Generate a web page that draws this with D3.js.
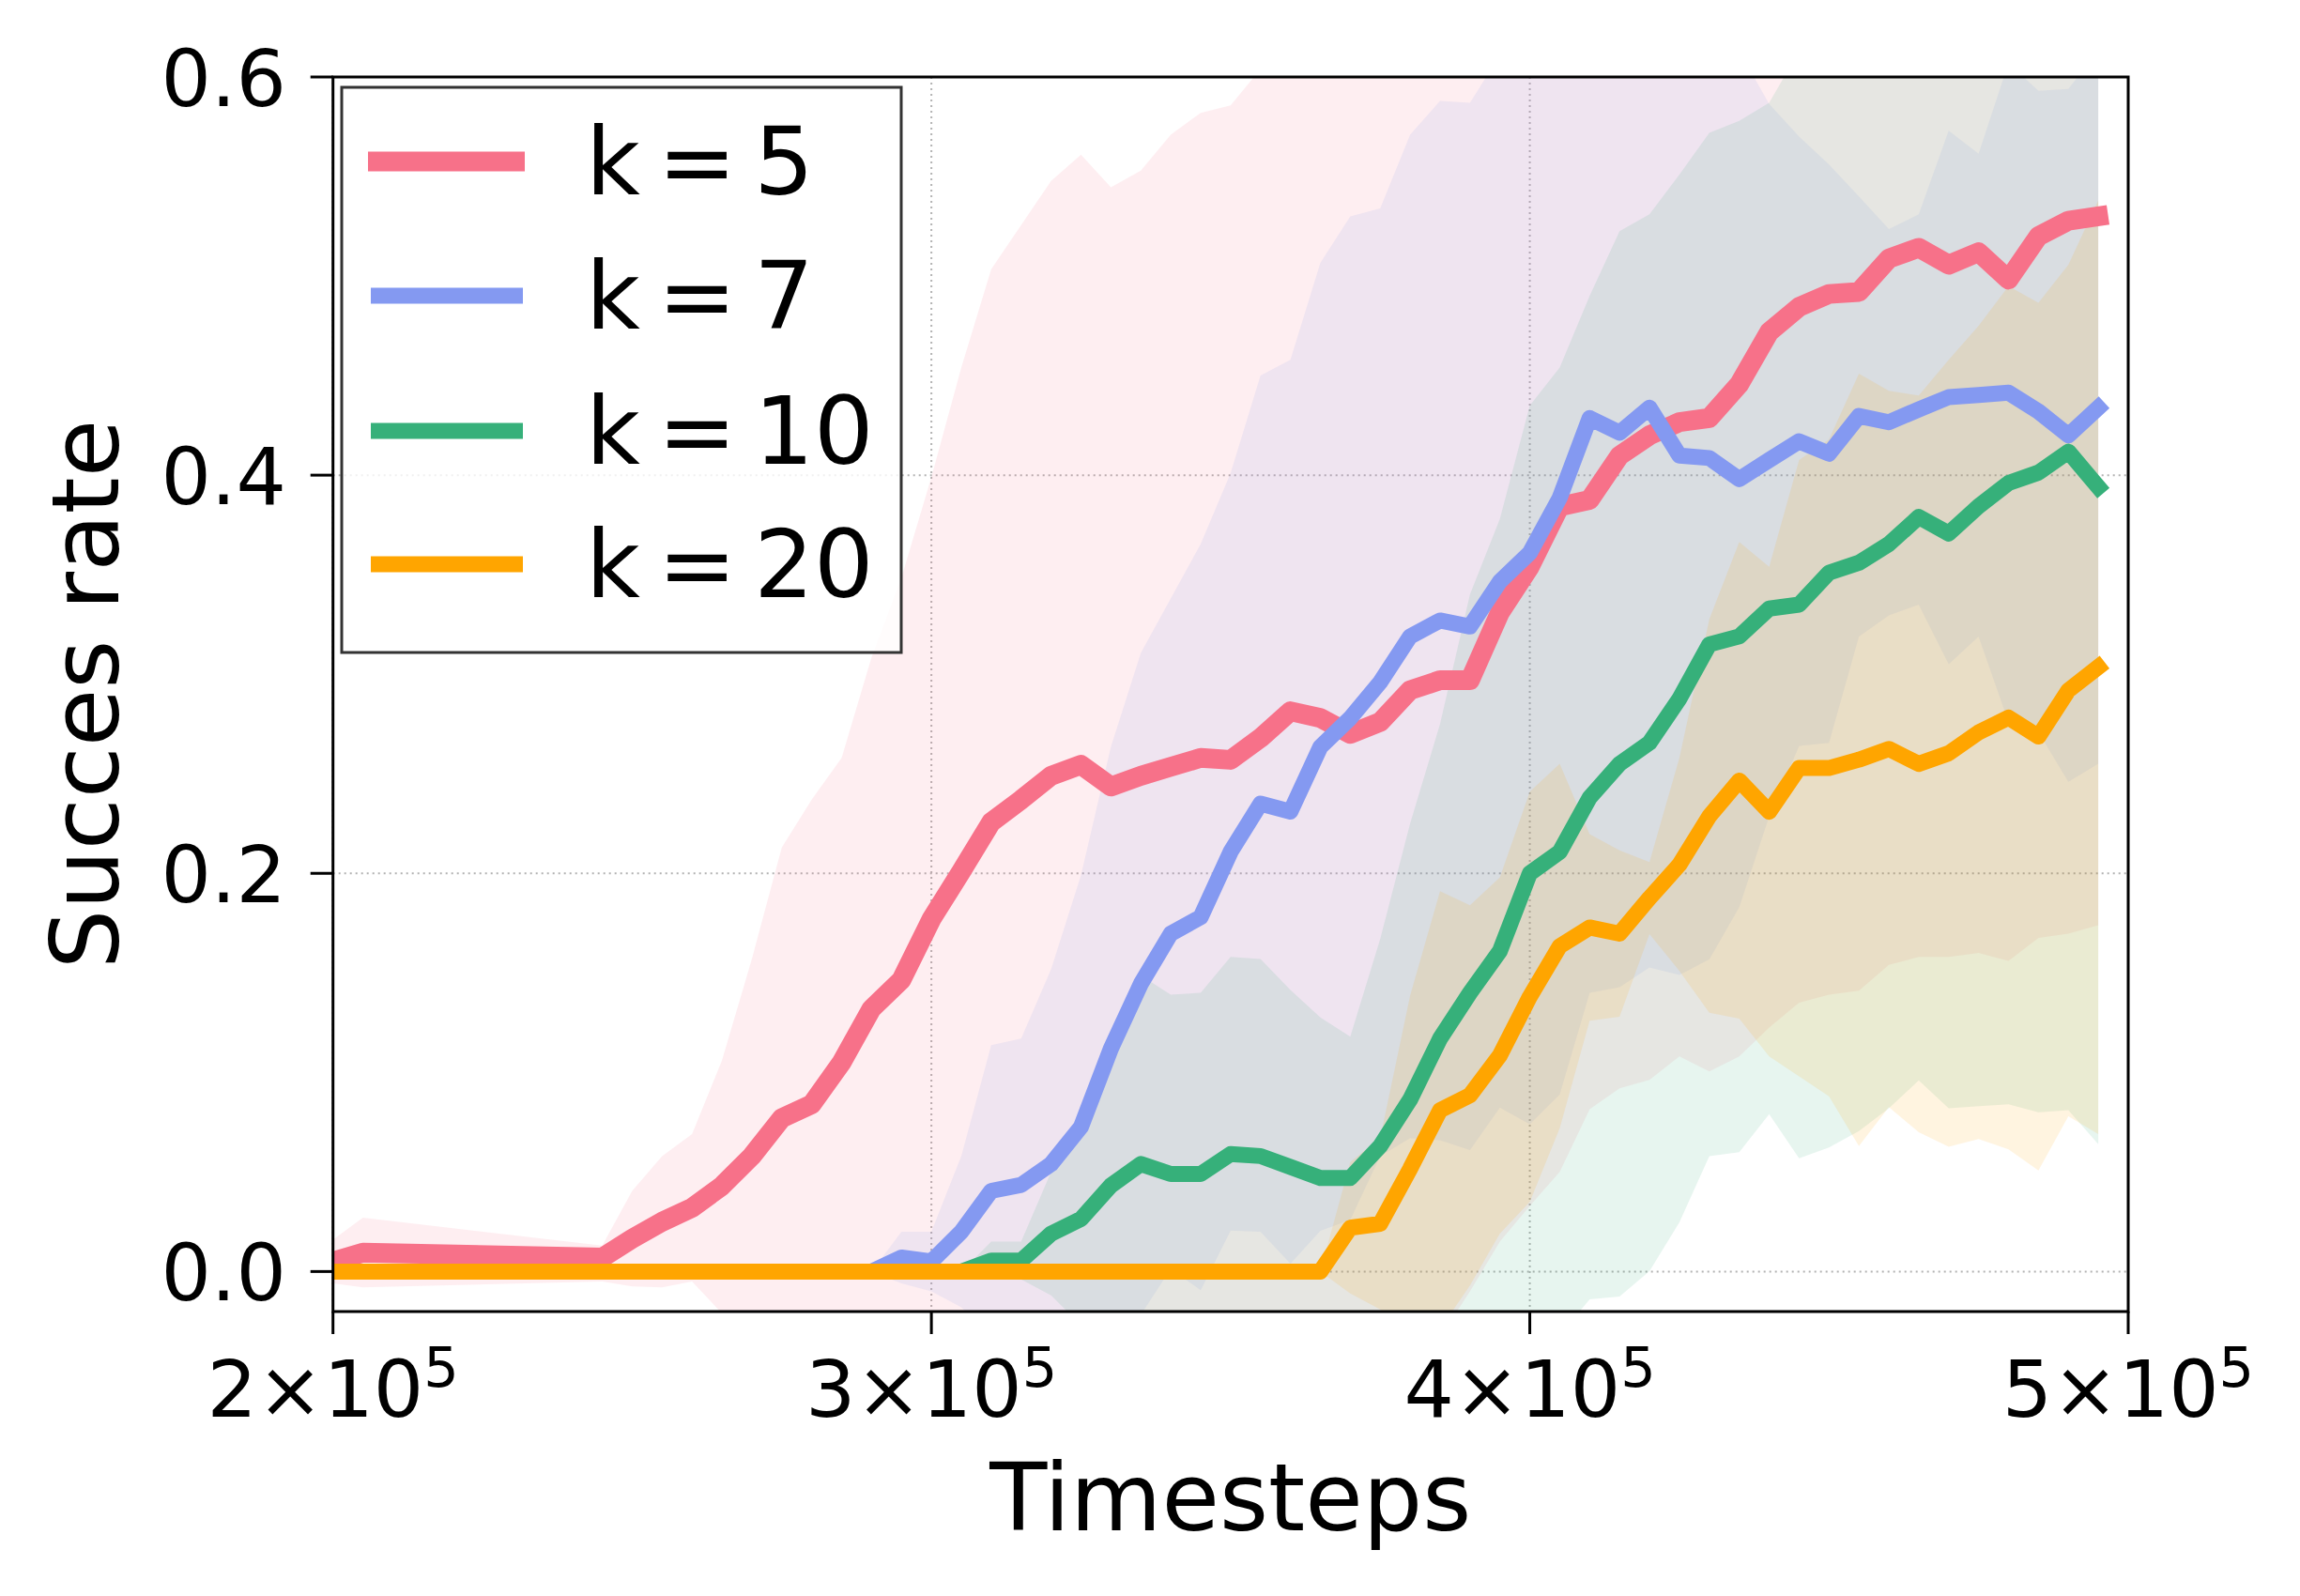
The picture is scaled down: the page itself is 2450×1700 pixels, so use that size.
<!DOCTYPE html>
<html>
<head>
<meta charset="utf-8">
<script src="https://cdn.jsdelivr.net/npm/d3@7"></script>
<style>
  html, body { margin: 0; padding: 0; background: #ffffff; }
  svg { display: block; }
  text { font-family: "DejaVu Sans", sans-serif; fill: #000; }
</style>
</head>
<body>
<svg id="chart" width="2450" height="1700"></svg>
<script>
// ---------------- data ----------------
const steps = [200000, 205000, 245000, 250000, 255000, 260000, 265000, 270000, 275000, 280000,
  285000, 290000, 295000, 300000, 305000, 310000, 315000, 320000, 325000, 330000,
  335000, 340000, 345000, 350000, 355000, 360000, 365000, 370000, 375000, 380000,
  385000, 390000, 395000, 400000, 405000, 410000, 415000, 420000, 425000, 430000,
  435000, 440000, 445000, 450000, 455000, 460000, 465000, 470000, 475000, 480000,
  485000, 490000, 495000];

const seriesLabels = ["k = 5", "k = 7", "k = 10", "k = 20"];

// k = 5
const meanK5 = [0.005, 0.0095, 0.007, 0.0165, 0.025, 0.032, 0.043, 0.058, 0.077, 0.084,
  0.105, 0.132, 0.1465, 0.177, 0.201, 0.2257, 0.237, 0.249, 0.2545, 0.2436,
  0.249, 0.2535, 0.258, 0.257, 0.268, 0.2814, 0.278, 0.270, 0.276, 0.292,
  0.297, 0.297, 0.331, 0.354, 0.3843, 0.3876, 0.4098, 0.420, 0.4266, 0.4287,
  0.4457, 0.4719, 0.4845, 0.491, 0.492, 0.5088, 0.5142, 0.5057, 0.512, 0.4982,
  0.520, 0.5278, 0.530];
const upperK5 = [0.016, 0.027, 0.013, 0.0405, 0.058, 0.069, 0.106, 0.157, 0.213, 0.237,
  0.258, 0.3085, 0.3486, 0.399, 0.454, 0.5035, 0.5256, 0.5478, 0.561, 0.5446,
  0.553, 0.571, 0.582, 0.5857, 0.604, 0.621, 0.618, 0.61, 0.616, 0.622,
  0.627, 0.604, 0.647, 0.675, 0.719, 0.6937, 0.7276, 0.7437, 0.7452, 0.7569,
  0.7834, 0.8213, 0.834, 0.843, 0.843, 0.8636, 0.8704, 0.8534, 0.864, 0.8404,
  0.8724, 0.8859, 0.886];
const lowerK5 = [-0.006, -0.008, -0.005, -0.0075, -0.008, -0.005, -0.021, -0.041, -0.059, -0.069,
  -0.048, -0.045, -0.055, -0.045, -0.052, -0.052, -0.052, -0.05, -0.052, -0.057,
  -0.055, -0.064, -0.066, -0.072, -0.068, -0.059, -0.062, -0.07, -0.064, -0.038,
  -0.033, -0.01, 0.015, 0.033, 0.05, 0.0815, 0.092, 0.0963, 0.108, 0.1005,
  0.108, 0.1225, 0.135, 0.139, 0.141, 0.154, 0.158, 0.158, 0.160, 0.156,
  0.1676, 0.1697, 0.174];

// k = 7
const meanK7 = [0, 0, 0, 0, 0, 0, 0, 0, 0, 0,
  0, 0, 0.007, 0.005, 0.020, 0.0405, 0.0435, 0.054, 0.0727, 0.112,
  0.1445, 0.1697, 0.178, 0.2108, 0.235, 0.231, 0.2635, 0.278, 0.296, 0.319,
  0.327, 0.324, 0.3466, 0.361, 0.3886, 0.4287, 0.4213, 0.4339, 0.4098, 0.4086,
  0.398, 0.4076, 0.417, 0.4108, 0.4297, 0.4266, 0.433, 0.4392, 0.4403, 0.4414,
  0.432, 0.420, 0.4339];
const upperK7 = [0, 0, 0, 0, 0, 0, 0, 0, 0, 0,
  0, 0, 0.02, 0.02, 0.058, 0.1137, 0.117, 0.1518, 0.199, 0.2635,
  0.3107, 0.338, 0.3654, 0.401, 0.45, 0.458, 0.5066, 0.530, 0.534, 0.571,
  0.588, 0.587, 0.611, 0.648, 0.688, 0.717, 0.70, 0.715, 0.671, 0.660,
  0.613, 0.5865, 0.570, 0.556, 0.540, 0.5236, 0.531, 0.573, 0.5615, 0.607,
  0.593, 0.594, 0.613];
const lowerK7 = [0, 0, 0, 0, 0, 0, 0, 0, 0, 0,
  0, 0, -0.006, -0.01, -0.018, -0.0327, -0.03, -0.0438, -0.0536, -0.0395,
  -0.0217, 0.0014, -0.0094, 0.0206, 0.02, 0.004, 0.0204, 0.026, 0.058, 0.067,
  0.066, 0.061, 0.0823, 0.074, 0.0889, 0.140, 0.1428, 0.1527, 0.149, 0.1568,
  0.183, 0.2287, 0.264, 0.2656, 0.319, 0.3296, 0.335, 0.305, 0.319, 0.276,
  0.271, 0.246, 0.255];

// k = 10
const meanK10 = [0, 0, 0, 0, 0, 0, 0, 0, 0, 0,
  0, 0, 0, 0, 0, 0.0055, 0.0055, 0.019, 0.0264, 0.0432,
  0.054, 0.049, 0.049, 0.059, 0.058, 0.0525, 0.047, 0.047, 0.063, 0.0864,
  0.117, 0.140, 0.161, 0.200, 0.2108, 0.238, 0.255, 0.2656, 0.2877, 0.315,
  0.319, 0.333, 0.335, 0.351, 0.356, 0.3654, 0.379, 0.3707, 0.3844, 0.396,
  0.4013, 0.4118, 0.394];
const upperK10 = [0, 0, 0, 0, 0, 0, 0, 0, 0, 0,
  0, 0, 0, 0, 0, 0.015, 0.015, 0.05, 0.08, 0.12,
  0.1487, 0.139, 0.140, 0.158, 0.157, 0.1414, 0.1276, 0.118, 0.167, 0.225,
  0.275, 0.34, 0.378, 0.435, 0.454, 0.490, 0.5225, 0.531, 0.551, 0.572,
  0.578, 0.587, 0.613, 0.64, 0.641, 0.648, 0.662, 0.6594, 0.6858, 0.708,
  0.7226, 0.7426, 0.724];
const lowerK10 = [0, 0, 0, 0, 0, 0, 0, 0, 0, 0,
  0, 0, 0, 0, 0, -0.004, -0.004, -0.012, -0.027, -0.034,
  -0.041, -0.041, -0.042, -0.04, -0.041, -0.036, -0.034, -0.024, -0.041, -0.052,
  -0.041, -0.06, -0.056, -0.035, -0.032, -0.014, -0.0125, 0.0002, 0.0247, 0.058,
  0.06, 0.079, 0.0569, 0.0623, 0.0706, 0.082, 0.096, 0.082, 0.083, 0.084,
  0.080, 0.081, 0.064];

// k = 20
const meanK20 = [0, 0, 0, 0, 0, 0, 0, 0, 0, 0,
  0, 0, 0, 0, 0, 0, 0, 0, 0, 0,
  0, 0, 0, 0, 0, 0, 0, 0.022, 0.024, 0.0516,
  0.081, 0.0885, 0.1086, 0.138, 0.1634, 0.1728, 0.1697, 0.1876, 0.2044, 0.2287,
  0.2466, 0.2309, 0.2529, 0.2529, 0.2571, 0.2625, 0.255, 0.2603, 0.2708, 0.2782,
  0.2687, 0.2919, 0.3036];
const upperK20 = [0, 0, 0, 0, 0, 0, 0, 0, 0, 0,
  0, 0, 0, 0, 0, 0, 0, 0, 0, 0,
  0, 0, 0, 0, 0, 0, 0, 0.055, 0.067, 0.1386,
  0.191, 0.184, 0.198, 0.241, 0.255, 0.2197, 0.2115, 0.2057, 0.258, 0.3277,
  0.3665, 0.354, 0.4076, 0.418, 0.451, 0.4424, 0.440, 0.458, 0.475, 0.495,
  0.4866, 0.5057, 0.538];
const lowerK20 = [0, 0, 0, 0, 0, 0, 0, 0, 0, 0,
  0, 0, 0, 0, 0, 0, 0, 0, 0, 0,
  0, 0, 0, 0, 0, 0, 0, -0.011, -0.019, -0.035,
  -0.029, -0.007, 0.019, 0.035, 0.072, 0.126, 0.128, 0.1695, 0.151, 0.13,
  0.127, 0.108, 0.098, 0.088, 0.063, 0.0826, 0.07, 0.0626, 0.0666, 0.0614,
  0.0508, 0.078, 0.069];

const xTicks = [200000, 300000, 400000, 500000];
const xTickMantissa = ["2", "3", "4", "5"];
const yTicks = [0.0, 0.2, 0.4, 0.6];
const yTickLabels = ["0.0", "0.2", "0.4", "0.6"];
const xAxisTitle = "Timesteps";
const yAxisTitle = "Succes rate";

// ---------------- layout ----------------
const plot = { left: 354.7, right: 2267, top: 82, bottom: 1397 };
const colors = ["#f77189", "#8499f1", "#36b07a", "#ffa500"];
const lineWidths = [21, 17, 17, 17];

const svg = d3.select("#chart");
const x = d3.scaleLinear().domain([200000, 500000]).range([plot.left, plot.right]);
const y = d3.scaleLinear().domain([-0.0201, 0.6]).range([plot.bottom, plot.top]);

svg.append("defs").append("clipPath").attr("id", "plotclip")
  .append("rect")
  .attr("x", plot.left).attr("y", plot.top)
  .attr("width", plot.right - plot.left).attr("height", plot.bottom - plot.top);

// grid
const grid = svg.append("g");
grid.selectAll("line.gy").data(yTicks).enter().append("line")
  .attr("x1", plot.left).attr("x2", plot.right)
  .attr("y1", d => y(d)).attr("y2", d => y(d))
  .attr("stroke", "#b3b3b3").attr("stroke-width", 2).attr("stroke-dasharray", "2 4");
grid.selectAll("line.gx").data(xTicks).enter().append("line")
  .attr("y1", plot.top).attr("y2", plot.bottom)
  .attr("x1", d => x(d)).attr("x2", d => x(d))
  .attr("stroke", "#b3b3b3").attr("stroke-width", 2).attr("stroke-dasharray", "2 4");

const series = [
  { mean: meanK5, upper: upperK5, lower: lowerK5 },
  { mean: meanK7, upper: upperK7, lower: lowerK7 },
  { mean: meanK10, upper: upperK10, lower: lowerK10 },
  { mean: meanK20, upper: upperK20, lower: lowerK20 }
];

const body = svg.append("g").attr("clip-path", "url(#plotclip)");

// bands
series.forEach((s, k) => {
  const area = d3.area()
    .x((d, i) => x(steps[i]))
    .y0((d, i) => y(s.lower[i]))
    .y1((d, i) => y(s.upper[i]));
  body.append("path")
    .attr("d", area(steps))
    .attr("fill", colors[k])
    .attr("fill-opacity", 0.12)
    .attr("stroke", "none");
});

// mean lines
series.forEach((s, k) => {
  const line = d3.line()
    .x((d, i) => x(steps[i]))
    .y((d, i) => y(s.mean[i]));
  body.append("path")
    .attr("d", line(steps))
    .attr("fill", "none")
    .attr("stroke", colors[k])
    .attr("stroke-width", lineWidths[k])
    .attr("stroke-linejoin", "round")
    .attr("stroke-linecap", "square");
});

// spines
svg.append("rect")
  .attr("x", plot.left).attr("y", plot.top)
  .attr("width", plot.right - plot.left).attr("height", plot.bottom - plot.top)
  .attr("fill", "none").attr("stroke", "#000").attr("stroke-width", 3);

// y axis ticks & labels
const yAxis = svg.append("g");
yAxis.selectAll("line").data(yTicks).enter().append("line")
  .attr("x1", plot.left - 24).attr("x2", plot.left)
  .attr("y1", d => y(d)).attr("y2", d => y(d))
  .attr("stroke", "#000").attr("stroke-width", 3);
yAxis.selectAll("text").data(yTicks).enter().append("text")
  .attr("x", 305)
  .attr("y", d => y(d) + 30.5)
  .attr("text-anchor", "end")
  .attr("font-size", 84)
  .text((d, i) => yTickLabels[i]);

// x axis ticks & labels
const xAxis = svg.append("g");
xAxis.selectAll("line").data(xTicks).enter().append("line")
  .attr("x1", d => x(d)).attr("x2", d => x(d))
  .attr("y1", plot.bottom).attr("y2", plot.bottom + 24)
  .attr("stroke", "#000").attr("stroke-width", 3);
xTicks.forEach((t, i) => {
  const txt = xAxis.append("text")
    .attr("x", x(t))
    .attr("y", 1509)
    .attr("text-anchor", "middle")
    .attr("font-size", 84);
  txt.append("tspan").text(xTickMantissa[i] + "\u00d710");
  txt.append("tspan").attr("font-size", 59).attr("dy", -32).text("5");
});

// axis titles
svg.append("text")
  .attr("x", (plot.left + plot.right) / 2)
  .attr("y", 1630)
  .attr("text-anchor", "middle")
  .attr("font-size", 100)
  .text(xAxisTitle);
svg.append("text")
  .attr("transform", "translate(126," + ((plot.top + plot.bottom) / 2) + ") rotate(-90)")
  .attr("text-anchor", "middle")
  .attr("font-size", 100)
  .text(yAxisTitle);

// legend
const legend = svg.append("g");
legend.append("rect")
  .attr("x", 364).attr("y", 93)
  .attr("width", 596).attr("height", 602)
  .attr("fill", "#ffffff").attr("fill-opacity", 0.8)
  .attr("stroke", "#333333").attr("stroke-width", 3);
const rowLine = [172, 315, 459, 601];
seriesLabels.forEach((lab, k) => {
  legend.append("line")
    .attr("x1", k === 0 ? 392 : 395).attr("x2", k === 0 ? 559 : 557)
    .attr("y1", rowLine[k]).attr("y2", rowLine[k])
    .attr("stroke", colors[k]).attr("stroke-width", lineWidths[k]);
  legend.append("text")
    .attr("x", 624)
    .attr("y", rowLine[k] + 35)
    .attr("font-size", 100)
    .attr("word-spacing", -13)
    .text(lab);
});
</script>
</body>
</html>
